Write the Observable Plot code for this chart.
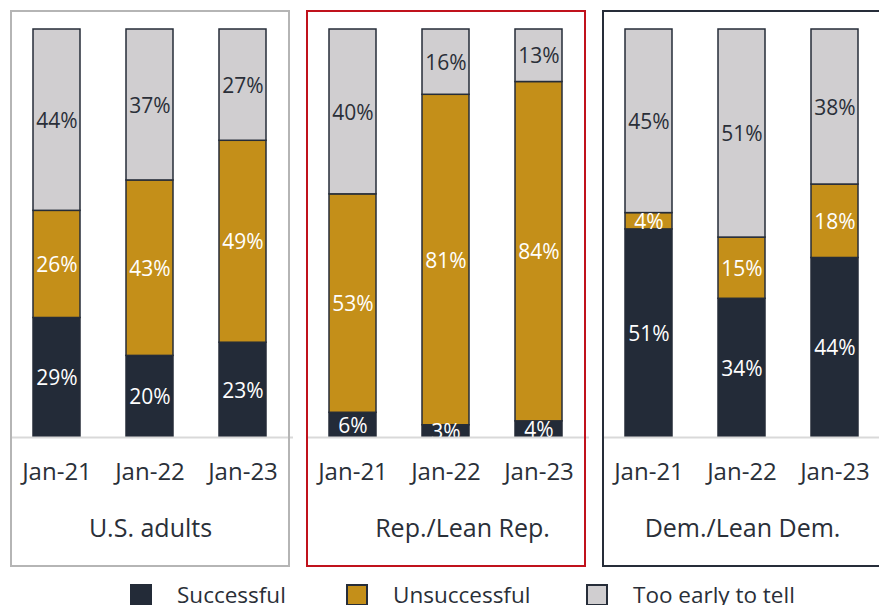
<!DOCTYPE html>
<html>
<head>
<meta charset="utf-8">
<script src="https://cdn.jsdelivr.net/npm/d3@7"></script>
<script src="https://cdn.jsdelivr.net/npm/@observablehq/plot@0.6"></script>
<style>
  html, body { margin: 0; padding: 0; background: #fff; }
  body { width: 879px; height: 605px; overflow: hidden; font-family: "Open Sans", sans-serif; color: #2a2f38; }
  #legend { position: relative; height: 27px; margin-top: 6px; }
  .item { position: absolute; top: 0; display: flex; align-items: center; font-size: 22.5px; line-height: 22px; white-space: nowrap; }
  .sw { width: 22px; height: 22px; box-sizing: border-box; margin-right: 25px; }
</style>
</head>
<body>
<div id="chart"></div>
<div id="legend"></div>
<script>
const groups = ["U.S. adults", "Rep./Lean Rep.", "Dem./Lean Dem."];
const dates = ["Jan-21", "Jan-22", "Jan-23"];
const categories = ["Successful", "Unsuccessful", "Too early to tell"];
// values per group (rows) and date (columns)
const successful   = [[29, 20, 23], [6, 3, 4],   [51, 34, 44]];
const unsuccessful = [[26, 43, 49], [53, 81, 84], [4, 15, 18]];
const tooEarly     = [[44, 37, 27], [40, 16, 13], [45, 51, 38]];
const colors = ["#232b38", "#c48f19", "#d0ced0"];
const boxColors = ["#b5b5b5", "#c0121c", "#262d39"];

const series = [successful, unsuccessful, tooEarly];
const rows = [];
categories.forEach((cat, c) => {
  groups.forEach((g, gi) => {
    dates.forEach((d, di) => {
      rows.push({cat, group: g, date: d, value: series[c][gi][di]});
    });
  });
});

const tickRows = [];
groups.forEach(g => dates.forEach(d => tickRows.push({group: g, date: d})));

const stackOpts = {offset: "normalize"};
const base = {x: "date", y: "value", fx: "group", z: "cat"};

const chart = Plot.plot({
  width: 879,
  height: 578,
  marginTop: 11,
  marginBottom: 12,
  marginLeft: 0,
  marginRight: 0,
  style: {fontFamily: "Open Sans", color: "#2a2f38", background: "#fff"},
  fx: {domain: groups, range: [10, 882], paddingInner: 0.06, paddingOuter: 0, axis: null, label: null},
  x: {domain: dates, paddingInner: 0.49, paddingOuter: 0.23, align: 0.5, axis: null, label: null},
  y: {domain: [0, 1], range: [437, 29], axis: null, label: null},
  color: {domain: categories, range: colors},
  marks: [
    Plot.barY(rows, Plot.stackY(stackOpts, {...base, fill: "cat", stroke: "#262d39", strokeWidth: 1.5})),
    Plot.text(rows, Plot.stackY(stackOpts, {
      ...base,
      text: d => d.cat === "Too early to tell" ? "" : d.value + "%",
      fill: "white", fontSize: 21, dy: 1, ariaLabel: "pct-labels"
    })),
    Plot.text(rows, Plot.stackY(stackOpts, {
      ...base,
      text: d => d.cat === "Too early to tell" ? d.value + "%" : "",
      fill: "#2a2f38", fontSize: 21, dy: 1, ariaLabel: "pct-labels"
    })),
    Plot.ruleY([0], {stroke: "#d9d9d9", strokeWidth: 2, insetRight: -4}),
    Plot.text(tickRows, {fx: "group", x: "date", text: "date", frameAnchor: "bottom", lineAnchor: "middle", dy: -94, fontSize: 24, fill: "#2a2f38"}),
    Plot.text(groups.filter(g => g !== "Rep./Lean Rep."), {fx: d => d, text: d => d, frameAnchor: "bottom", lineAnchor: "middle", dy: -38, fontSize: 25, fill: "#2a2f38"}),
    Plot.text(groups.filter(g => g === "Rep./Lean Rep."), {fx: d => d, text: d => d, frameAnchor: "bottom", lineAnchor: "middle", dy: -38, dx: 16, fontSize: 25, fill: "#2a2f38"}),
    ...groups.map((g, i) => Plot.rect([g], {fx: d => d, fill: "none", stroke: boxColors[i], strokeWidth: 2}))
  ]
});

document.getElementById("chart").appendChild(chart);

// clip the percentage labels at the baseline
const svg = d3.select(chart);
const defs = svg.append("defs");
defs.append("clipPath").attr("id", "barclip")
  .append("rect").attr("x", -3000).attr("y", 0).attr("width", 6000).attr("height", 436);
svg.selectAll('g[aria-label="pct-labels"]').attr("clip-path", "url(#barclip)");

// legend
const legendPos = [130, 346, 586];
const legend = document.getElementById("legend");
categories.forEach((cat, i) => {
  const item = document.createElement("div");
  item.className = "item";
  item.style.left = legendPos[i] + "px";
  const sw = document.createElement("div");
  sw.className = "sw";
  sw.style.background = colors[i];
  sw.style.border = i === 0 ? "none" : "2px solid #262d39";
  const label = document.createElement("span");
  label.textContent = cat;
  item.appendChild(sw);
  item.appendChild(label);
  legend.appendChild(item);
});
</script>
</body>
</html>
